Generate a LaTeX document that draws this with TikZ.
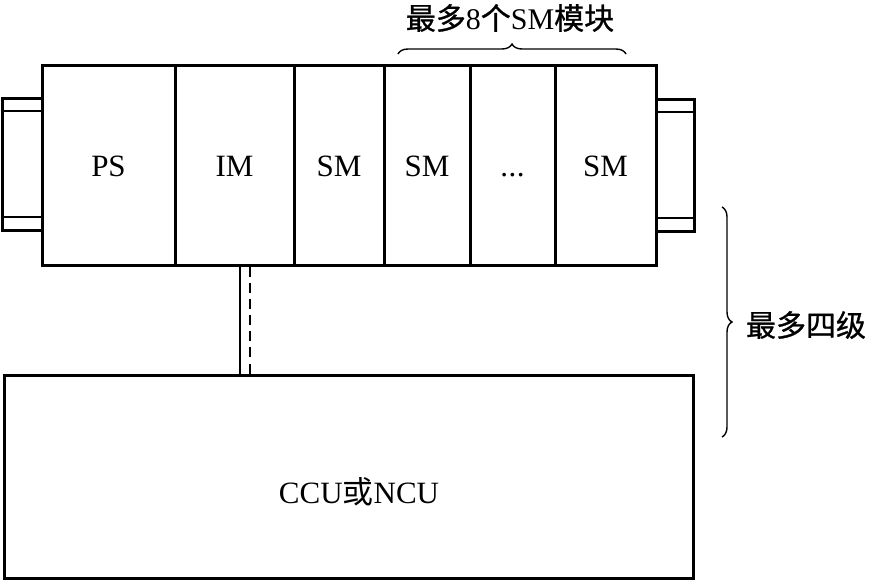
\documentclass[tikz,border=0pt]{standalone}
\usepackage{fontspec}
\setmainfont{Liberation Serif}
\newfontfamily\cjk[AutoFakeBold=0.9]{Noto Sans CJK SC}
\usetikzlibrary{positioning, calc, decorations.pathreplacing}

\newcommand\moddots{\vphantom{SM}.\kern0.5pt.\kern0.5pt.}

\begin{document}
\begin{tikzpicture}[x=1pt, y=-1pt,
  module/.style={rectangle, draw, line width=3pt, inner sep=0pt, minimum height=200pt,
    font=\fontsize{31}{36}\selectfont},
  plug/.style={rectangle, draw, line width=3pt, inner sep=0pt, minimum width=40pt, minimum height=132pt},
  bracel/.style={decorate, decoration={brace, amplitude=10pt}, line width=1.4pt},
  label/.style={font=\fontsize{30}{36}\selectfont\cjk\bfseries}
]
  \useasboundingbox (0,0) rectangle (879,580);

  % connectors at both ends of the rack
  \node[plug] (plugL) at (22,165) {};
  \node[plug, minimum width=38pt] (plugR) at (675,166) {};
  \draw[line width=2pt] ($(plugL.north west)+(0,14)$) -- ($(plugL.north east)+(0,14)$);
  \draw[line width=2pt] ($(plugL.south west)+(0,-15)$) -- ($(plugL.south east)+(0,-15)$);
  \draw[line width=2pt] ($(plugR.north west)+(0,14)$) -- ($(plugR.north east)+(0,14)$);
  \draw[line width=2pt] ($(plugR.south west)+(0,-15)$) -- ($(plugR.south east)+(0,-15)$);

  % rack modules
  \foreach \xa/\xb/\name/\lab in {42/175/PS/PS, 175/294/IM/IM, 294/384/SMa/SM,
      384/470/SMb/SM, 470/555/dots/\moddots, 555/656/SMc/SM}
    \node[module, fill=white, minimum width={(\xb-\xa)*1pt}] (\name) at ({(\xa+\xb)/2},166) {\lab};

  % controller
  \node[module, minimum width=689pt, minimum height=203pt] (CCU) at (348.5,476.5) {};
  \node[font=\fontsize{31}{36}\selectfont] (ccutext) at (359,492) {CCU{\cjk 或}NCU};

  % link between IM and controller
  \coordinate (linka) at (240,0);
  \coordinate (linkb) at (250,0);
  \draw[line width=2pt] (IM.south -| linka) -- (CCU.north -| linka);
  \draw[line width=2pt, dash pattern=on 10pt off 6pt] (IM.south -| linkb) -- (CCU.north -| linkb);

  % braces
  \coordinate (topa) at (398,54);
  \coordinate (topb) at (626,54);
  \draw[bracel] (topa) -- (topb);
  \node[label] (maxsm) at (510,18) {最多{\mdseries\rmfamily 8}个{\mdseries\rmfamily SM}模块};

  \coordinate (sidea) at (722,207);
  \coordinate (sideb) at (722,437);
  \draw[bracel] (sidea) -- (sideb);
  \node[label] (maxlvl) at (806,325) {最多四级};
\end{tikzpicture}
\end{document}
